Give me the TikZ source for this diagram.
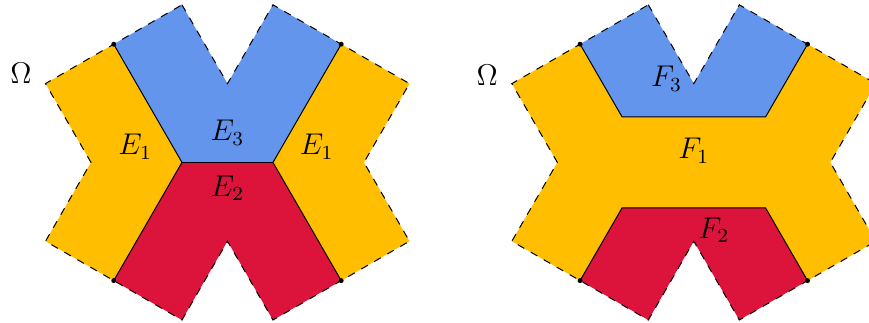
\documentclass[tikz,border=0pt]{standalone}
\usetikzlibrary{positioning,calc}
\usepackage{xcolor}
\definecolor{amber}{RGB}{255,190,0}
\definecolor{cornflower}{RGB}{100,149,237}
\definecolor{crimson}{RGB}{220,20,60}

\begin{document}
\begin{tikzpicture}[
    x=0.64cm, y=0.64cm,
    outer/.style={draw, dashed, thin},
    inner/.style={draw, thin},
    junction/.style={circle, fill, inner sep=0.7pt},
    label/.style={font=\large}
]
\useasboundingbox (-5.0,-3.51) rectangle (14.1,3.57);
% outline points, left picture
\foreach \x/\y [count=\i] in {-1/3.464, 0/1.732, 1/3.464, 2.5/2.598, 4/1.732, 3/0,
    4/-1.732, 2.5/-2.598, 1/-3.464, 0/-1.732, -1/-3.464, -2.5/-2.598,
    -4/-1.732, -3/0, -4/1.732, -2.5/2.598}
    \coordinate (a\i) at (\x,\y);
\coordinate (ail) at (-1,0);
\coordinate (air) at (1,0);
% outline points, right picture
\begin{scope}[shift={(10.25,0)}]
\foreach \x/\y [count=\i] in {-1/3.464, 0/1.732, 1/3.464, 2.5/2.598, 4/1.732, 3/0,
    4/-1.732, 2.5/-2.598, 1/-3.464, 0/-1.732, -1/-3.464, -2.5/-2.598,
    -4/-1.732, -3/0, -4/1.732, -2.5/2.598}
    \coordinate (b\i) at (\x,\y);
\coordinate (btl) at (-1.577,1);
\coordinate (btr) at (1.577,1);
\coordinate (bbl) at (-1.577,-1);
\coordinate (bbr) at (1.577,-1);
\end{scope}

% left: E regions
\fill[amber] (a16) -- (ail) -- (a12) -- (a13) -- (a14) -- (a15) -- cycle;
\fill[amber] (a4) -- (air) -- (a8) -- (a7) -- (a6) -- (a5) -- cycle;
\fill[cornflower] (a16) -- (a1) -- (a2) -- (a3) -- (a4) -- (air) -- (ail) -- cycle;
\fill[crimson] (a12) -- (a11) -- (a10) -- (a9) -- (a8) -- (air) -- (ail) -- cycle;
\draw[inner] (a16) -- (ail) -- (a12);
\draw[inner] (a4) -- (air) -- (a8);
\draw[inner] (ail) -- (air);
\draw[outer] (a1) \foreach \i in {2,...,16} { -- (a\i) } -- cycle;
\foreach \i in {4,8,12,16} \node[junction] (da\i) at (a\i) {};

% right: F regions
\fill[amber] (b16) -- (btl) -- (btr) -- (b4) -- (b5) -- (b6) -- (b7) -- (b8)
    -- (bbr) -- (bbl) -- (b12) -- (b13) -- (b14) -- (b15) -- cycle;
\fill[cornflower] (b16) -- (b1) -- (b2) -- (b3) -- (b4) -- (btr) -- (btl) -- cycle;
\fill[crimson] (b12) -- (b11) -- (b10) -- (b9) -- (b8) -- (bbr) -- (bbl) -- cycle;
\draw[inner] (b16) -- (btl) -- (btr) -- (b4);
\draw[inner] (b12) -- (bbl) -- (bbr) -- (b8);
\draw[outer] (b1) \foreach \i in {2,...,16} { -- (b\i) } -- cycle;
\foreach \i in {4,8,12,16} \node[junction] (db\i) at (b\i) {};

% labels
\node[label] (omegaa) at (-4.54,1.95) {$\Omega$};
\node[label] (e1l) at (-2.03,0.34) {$E_1$};
\node[label] (e1r) at (1.96,0.34) {$E_1$};
\node[label] (e3) at (0,0.65) {$E_3$};
\node[label] (e2) at (0,-0.57) {$E_2$};
\node[label] (omegab) at (5.71,1.91) {$\Omega$};
\node[label] (f3) at (9.65,1.84) {$F_3$};
\node[label] (f1) at (10.25,0.26) {$F_1$};
\node[label] (f2) at (10.69,-1.49) {$F_2$};
\end{tikzpicture}
\end{document}
